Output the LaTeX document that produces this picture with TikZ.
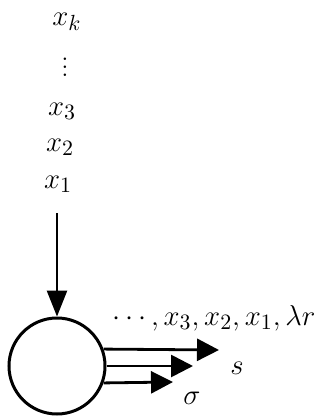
\documentclass[tikz,border=0pt]{standalone}
\usepackage{tikz}
\usetikzlibrary{arrows.meta}

\begin{document}
\begin{tikzpicture}[x=0.5pt, y=0.5pt, font=\fontsize{15.4}{18}\selectfont,
    label/.style={inner sep=0.5pt},
    flow/.style={-{Triangle[length=11pt, width=11pt]}, line width=1.4pt}]
    \useasboundingbox (0,0) rectangle (335,-418);

    % Node
    \node[draw, circle, line width=1.5pt, minimum size=48pt, inner sep=0pt] (unit) at (57,-366) {};

    % Input labels
    \node[label] (xk) at (67,-22) {$x_k$};
    \node[label] (dots) at (65,-61) {$\vdots$};
    \node[label] (x3) at (62,-111) {$x_3$};
    \node[label] (x2) at (60,-147) {$x_2$};
    \node[label] (x1) at (58,-184) {$x_1$};

    % Output labels
    \node[label] (outs) at (214,-318) {$\cdots, x_3, x_2, x_1, \lambda r$};
    \node[label] (s) at (237,-368) {$s$};
    \node[label] (sigma) at (192,-398) {$\sigma$};

    % Ends
    \coordinate (in) at (57,-213);
    \coordinate (outa) at (219,-350);
    \coordinate (outb) at (193,-366);
    \coordinate (outc) at (173,-382);

    % Arrows
    \draw[-{Triangle[length=13pt, width=10pt]}, line width=1.3pt] (in) -- (unit.north);
    \draw[flow] (unit.20) -- (outa);
    \draw[flow] (unit.0) -- (outb);
    \draw[flow] (unit.-20) -- (outc);
\end{tikzpicture}
\end{document}
